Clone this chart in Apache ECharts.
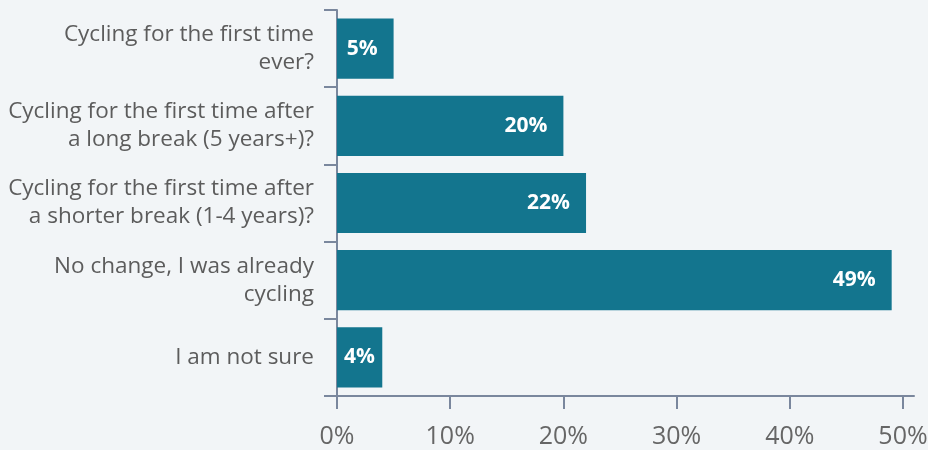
<!DOCTYPE html>
<html><head><meta charset="utf-8">
<script src="https://cdn.jsdelivr.net/npm/echarts@6/dist/echarts.min.js"></script>
<style>html,body{margin:0;padding:0;background:#f2f5f7;}#c{width:928px;height:450px;}</style>
</head><body><div id="c"></div>
<script>
var categories = [
  "Cycling for the first time\never?",
  "Cycling for the first time after\na long break (5 years+)?",
  "Cycling for the first time after\na shorter break (1-4 years)?",
  "No change, I was already\ncycling",
  "I am not sure"
];
var values = [5, 20, 22, 49, 4];
var xTicks = [0, 10, 20, 30, 40, 50];

var axisColor = '#7a879d';
var barData = values.map(function (v) {
  var item = {value: v};
  if (v < 5) {
    item.label = {position: 'insideLeft', distance: 7};
  }
  return item;
});
var chart = echarts.init(document.getElementById('c'));
chart.setOption({
  backgroundColor: '#f2f5f7',
  animation: false,
  grid: [
    {left: 337, right: 25, top: 10, bottom: 54, outerBoundsMode: 'none', containLabel: false},
    {left: 337, right: 14, top: 10, bottom: 54, outerBoundsMode: 'none', containLabel: false}
  ],
  xAxis: [{
    type: 'value', gridIndex: 0, min: xTicks[0], max: xTicks[xTicks.length - 1], interval: 10,
    splitLine: {show: false},
    axisLine: {show: true, lineStyle: {color: axisColor, width: 2}},
    axisTick: {show: true, length: 13, lineStyle: {color: axisColor, width: 2}},
    axisLabel: {formatter: '{value}%', color: '#666', fontFamily: 'Open Sans', fontSize: 25, margin: 28}
  }, {
    type: 'value', gridIndex: 1, min: 0, max: 1,
    splitLine: {show: false},
    axisLine: {show: true, lineStyle: {color: axisColor, width: 2}},
    axisTick: {show: false}, axisLabel: {show: false}
  }],
  yAxis: [{
    type: 'category', gridIndex: 0, data: categories, inverse: true,
    axisLine: {show: true, lineStyle: {color: axisColor, width: 2}},
    axisTick: {show: true, length: 13, lineStyle: {color: axisColor, width: 2}},
    axisLabel: {color: '#5c5c5c', fontFamily: 'Open Sans', fontSize: 22.5, lineHeight: 28, margin: 23, align: 'right', padding: [6, 0, 0, 0]}
  }, {
    type: 'category', gridIndex: 1, data: categories, inverse: true, show: false
  }],
  series: [{
    type: 'bar', xAxisIndex: 0, yAxisIndex: 0, data: barData, barCategoryGap: '22%',
    itemStyle: {color: '#13758e'},
    label: {show: true, position: 'insideRight', distance: 16, formatter: '{c}%', color: '#fff', fontWeight: 'bold', fontFamily: 'Open Sans', fontSize: 21}
  }]
});
</script></body></html>
